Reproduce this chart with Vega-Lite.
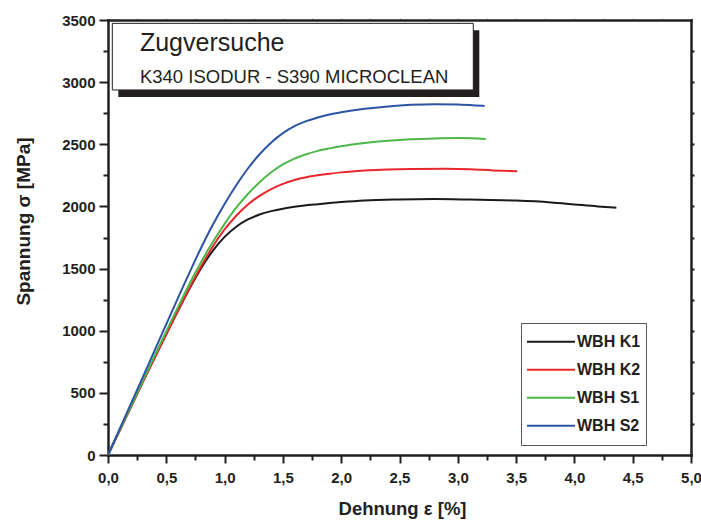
{
  "$schema": "https://vega.github.io/schema/vega-lite/v6.json",
  "width": 583,
  "height": 435,
  "autosize": {"type": "none"},
  "padding": {"left": 108, "top": 20, "right": 10, "bottom": 65},
  "background": "white",
  "config": {
    "view": {"stroke": null},
    "font": "Liberation Sans",
    "axis": {
      "grid": false,
      "domainColor": "#231f20",
      "domainWidth": 2.5,
      "domainCap": "square",
      "tickColor": "#231f20",
      "tickWidth": 2,
      "labelFont": "Liberation Sans",
      "labelFontWeight": "bold",
      "labelFontSize": 15,
      "labelColor": "#231f20",
      "titleFont": "Liberation Sans",
      "titleFontWeight": "bold",
      "titleFontSize": 18.5,
      "titleColor": "#231f20"
    }
  },
  "datasets": {
    "curves": [
      {"probe": "WBH K1", "strain": 0, "stress": 0},
      {"probe": "WBH K1", "strain": 0.3, "stress": 590},
      {"probe": "WBH K1", "strain": 0.6, "stress": 1160},
      {"probe": "WBH K1", "strain": 0.7, "stress": 1340},
      {"probe": "WBH K1", "strain": 0.8, "stress": 1505},
      {"probe": "WBH K1", "strain": 0.9, "stress": 1645},
      {"probe": "WBH K1", "strain": 1.0, "stress": 1755},
      {"probe": "WBH K1", "strain": 1.1, "stress": 1837},
      {"probe": "WBH K1", "strain": 1.2, "stress": 1895},
      {"probe": "WBH K1", "strain": 1.3, "stress": 1935},
      {"probe": "WBH K1", "strain": 1.4, "stress": 1962},
      {"probe": "WBH K1", "strain": 1.5, "stress": 1982},
      {"probe": "WBH K1", "strain": 1.6, "stress": 1997},
      {"probe": "WBH K1", "strain": 1.8, "stress": 2018},
      {"probe": "WBH K1", "strain": 2.0, "stress": 2035},
      {"probe": "WBH K1", "strain": 2.2, "stress": 2048},
      {"probe": "WBH K1", "strain": 2.5, "stress": 2056},
      {"probe": "WBH K1", "strain": 2.8, "stress": 2059},
      {"probe": "WBH K1", "strain": 3.1, "stress": 2055},
      {"probe": "WBH K1", "strain": 3.5, "stress": 2047},
      {"probe": "WBH K1", "strain": 3.8, "stress": 2032},
      {"probe": "WBH K1", "strain": 4.0, "stress": 2016},
      {"probe": "WBH K1", "strain": 4.2, "stress": 2000},
      {"probe": "WBH K1", "strain": 4.36, "stress": 1990},

      {"probe": "WBH K2", "strain": 0, "stress": 0},
      {"probe": "WBH K2", "strain": 0.3, "stress": 590},
      {"probe": "WBH K2", "strain": 0.6, "stress": 1160},
      {"probe": "WBH K2", "strain": 0.7, "stress": 1345},
      {"probe": "WBH K2", "strain": 0.8, "stress": 1520},
      {"probe": "WBH K2", "strain": 0.9, "stress": 1680},
      {"probe": "WBH K2", "strain": 1.0, "stress": 1815},
      {"probe": "WBH K2", "strain": 1.1, "stress": 1925},
      {"probe": "WBH K2", "strain": 1.2, "stress": 2015},
      {"probe": "WBH K2", "strain": 1.3, "stress": 2085},
      {"probe": "WBH K2", "strain": 1.4, "stress": 2140},
      {"probe": "WBH K2", "strain": 1.5, "stress": 2182},
      {"probe": "WBH K2", "strain": 1.6, "stress": 2212},
      {"probe": "WBH K2", "strain": 1.7, "stress": 2234},
      {"probe": "WBH K2", "strain": 1.8, "stress": 2250},
      {"probe": "WBH K2", "strain": 1.9, "stress": 2263},
      {"probe": "WBH K2", "strain": 2.0, "stress": 2274},
      {"probe": "WBH K2", "strain": 2.2, "stress": 2289},
      {"probe": "WBH K2", "strain": 2.4, "stress": 2298},
      {"probe": "WBH K2", "strain": 2.6, "stress": 2302},
      {"probe": "WBH K2", "strain": 2.9, "stress": 2303},
      {"probe": "WBH K2", "strain": 3.1, "stress": 2300},
      {"probe": "WBH K2", "strain": 3.3, "stress": 2290},
      {"probe": "WBH K2", "strain": 3.51, "stress": 2283},

      {"probe": "WBH S1", "strain": 0, "stress": 0},
      {"probe": "WBH S1", "strain": 0.3, "stress": 600},
      {"probe": "WBH S1", "strain": 0.6, "stress": 1190},
      {"probe": "WBH S1", "strain": 0.7, "stress": 1380},
      {"probe": "WBH S1", "strain": 0.8, "stress": 1555},
      {"probe": "WBH S1", "strain": 0.9, "stress": 1715},
      {"probe": "WBH S1", "strain": 1.0, "stress": 1860},
      {"probe": "WBH S1", "strain": 1.1, "stress": 1990},
      {"probe": "WBH S1", "strain": 1.2, "stress": 2100},
      {"probe": "WBH S1", "strain": 1.3, "stress": 2195},
      {"probe": "WBH S1", "strain": 1.4, "stress": 2275},
      {"probe": "WBH S1", "strain": 1.5, "stress": 2338},
      {"probe": "WBH S1", "strain": 1.6, "stress": 2385},
      {"probe": "WBH S1", "strain": 1.7, "stress": 2420},
      {"probe": "WBH S1", "strain": 1.8, "stress": 2447},
      {"probe": "WBH S1", "strain": 1.9, "stress": 2467},
      {"probe": "WBH S1", "strain": 2.0, "stress": 2484},
      {"probe": "WBH S1", "strain": 2.2, "stress": 2510},
      {"probe": "WBH S1", "strain": 2.4, "stress": 2528},
      {"probe": "WBH S1", "strain": 2.6, "stress": 2540},
      {"probe": "WBH S1", "strain": 2.8, "stress": 2547},
      {"probe": "WBH S1", "strain": 3.0, "stress": 2550},
      {"probe": "WBH S1", "strain": 3.12, "stress": 2548},
      {"probe": "WBH S1", "strain": 3.24, "stress": 2542},

      {"probe": "WBH S2", "strain": 0, "stress": 0},
      {"probe": "WBH S2", "strain": 0.35, "stress": 735},
      {"probe": "WBH S2", "strain": 0.7, "stress": 1470},
      {"probe": "WBH S2", "strain": 0.8, "stress": 1670},
      {"probe": "WBH S2", "strain": 0.9, "stress": 1855},
      {"probe": "WBH S2", "strain": 1.0, "stress": 2020},
      {"probe": "WBH S2", "strain": 1.1, "stress": 2170},
      {"probe": "WBH S2", "strain": 1.2, "stress": 2305},
      {"probe": "WBH S2", "strain": 1.3, "stress": 2420},
      {"probe": "WBH S2", "strain": 1.4, "stress": 2515},
      {"probe": "WBH S2", "strain": 1.5, "stress": 2590},
      {"probe": "WBH S2", "strain": 1.6, "stress": 2646},
      {"probe": "WBH S2", "strain": 1.7, "stress": 2686},
      {"probe": "WBH S2", "strain": 1.8, "stress": 2716},
      {"probe": "WBH S2", "strain": 1.9, "stress": 2739},
      {"probe": "WBH S2", "strain": 2.0, "stress": 2757},
      {"probe": "WBH S2", "strain": 2.2, "stress": 2785},
      {"probe": "WBH S2", "strain": 2.4, "stress": 2805},
      {"probe": "WBH S2", "strain": 2.6, "stress": 2818},
      {"probe": "WBH S2", "strain": 2.8, "stress": 2823},
      {"probe": "WBH S2", "strain": 3.0, "stress": 2820},
      {"probe": "WBH S2", "strain": 3.15, "stress": 2813},
      {"probe": "WBH S2", "strain": 3.23, "stress": 2808}
    ],
    "headingBox": [
      {"x0": 0.037, "x1": 3.133, "y0": 2937, "y1": 3473}
    ],
    "heading": [
      {"role": "main", "line": "Zugversuche", "x": 0.274, "y": 3253},
      {"role": "sub", "line": "K340 ISODUR - S390 MICROCLEAN", "x": 0.274, "y": 2996}
    ]
  },
  "resolve": {"axis": {"x": "independent", "y": "independent"}},
  "layer": [
    {
      "data": {"name": "curves"},
      "mark": {"type": "line", "strokeWidth": 2, "interpolate": "monotone"},
      "encoding": {
        "x": {
          "field": "strain", "type": "quantitative",
          "scale": {"domain": [0, 5], "nice": false, "zero": false},
          "axis": {
            "orient": "bottom",
            "values": [0, 0.5, 1, 1.5, 2, 2.5, 3, 3.5, 4, 4.5, 5],
            "labelExpr": "replace(format(datum.value, '.1f'), '.', ',')",
            "tickSize": 8,
            "labelPadding": 7,
            "labelFlush": false,
            "labelOverlap": false,
            "title": "Dehnung ε [%]",
            "titleBaseline": "alphabetic",
            "titleX": 294,
            "titleY": 59
          }
        },
        "y": {
          "field": "stress", "type": "quantitative",
          "scale": {"domain": [0, 3500], "nice": false, "zero": false},
          "axis": {
            "orient": "left",
            "values": [0, 500, 1000, 1500, 2000, 2500, 3000, 3500],
            "format": "d",
            "tickSize": 9,
            "labelPadding": 4,
            "labelFlush": false,
            "labelOverlap": false,
            "title": "Spannung σ [MPa]",
            "titleFontSize": 19,
            "titleBaseline": "alphabetic",
            "titleAngle": -90,
            "titleX": -79,
            "titleY": 201
          }
        },
        "color": {
          "field": "probe", "type": "nominal",
          "scale": {
            "domain": ["WBH K1", "WBH K2", "WBH S1", "WBH S2"],
            "range": ["#1a1a1a", "#e8262b", "#4cb848", "#2c54a4"]
          },
          "legend": {
            "orient": "none",
            "legendX": 413,
            "legendY": 303,
            "title": null,
            "symbolType": "stroke",
            "symbolSize": 2304,
            "symbolStrokeWidth": 2,
            "labelFont": "Liberation Sans",
            "labelFontWeight": "bold",
            "labelFontSize": 16,
            "labelColor": "#231f20",
            "labelOffset": 1,
            "clipHeight": 27.5,
            "rowPadding": 0,
            "padding": 5,
            "strokeColor": "#555555",
            "fillColor": "white",
            "cornerRadius": 0
          }
        }
      }
    },
    {
      "data": {"name": "curves"},
      "mark": {"type": "point", "opacity": 0},
      "encoding": {
        "x": {
          "field": "strain", "type": "quantitative",
          "scale": {"domain": [0, 5], "nice": false, "zero": false},
          "axis": {
            "orient": "bottom",
            "values": [0.25, 0.75, 1.25, 1.75, 2.25, 2.75, 3.25, 3.75, 4.25, 4.75],
            "labels": false, "domain": false, "tickSize": 5, "title": null
          }
        },
        "y": {
          "field": "stress", "type": "quantitative",
          "scale": {"domain": [0, 3500], "nice": false, "zero": false},
          "axis": {
            "orient": "left",
            "values": [250, 750, 1250, 1750, 2250, 2750, 3250],
            "labels": false, "domain": false, "tickSize": 5, "title": null
          }
        }
      }
    },
    {
      "data": {"name": "curves"},
      "mark": {"type": "point", "opacity": 0},
      "encoding": {
        "x": {
          "field": "strain", "type": "quantitative",
          "scale": {"domain": [0, 5], "nice": false, "zero": false},
          "axis": {
            "orient": "top",
            "values": [0.25, 0.5, 0.75, 1, 1.25, 1.5, 1.75, 2, 2.25, 2.5, 2.75, 3, 3.25, 3.5, 3.75, 4, 4.25, 4.5, 4.75],
            "labels": false, "tickSize": 2, "tickWidth": 1, "tickColor": "#aaaaaa", "title": null
          }
        },
        "y": {
          "field": "stress", "type": "quantitative",
          "scale": {"domain": [0, 3500], "nice": false, "zero": false},
          "axis": {
            "orient": "right",
            "values": [250, 500, 750, 1000, 1250, 1500, 1750, 2000, 2250, 2500, 2750, 3000, 3250],
            "labels": false, "tickSize": 3, "title": null
          }
        }
      }
    },
    {
      "data": {"name": "headingBox"},
      "mark": {"type": "rect", "fill": "#231f20", "xOffset": 6, "x2Offset": 6, "yOffset": 7, "y2Offset": 7},
      "encoding": {
        "x": {"field": "x0", "type": "quantitative", "axis": null},
        "x2": {"field": "x1"},
        "y": {"field": "y0", "type": "quantitative", "axis": null},
        "y2": {"field": "y1"}
      }
    },
    {
      "data": {"name": "headingBox"},
      "mark": {"type": "rect", "fill": "white", "stroke": "#231f20", "strokeWidth": 1},
      "encoding": {
        "x": {"field": "x0", "type": "quantitative", "axis": null},
        "x2": {"field": "x1"},
        "y": {"field": "y0", "type": "quantitative", "axis": null},
        "y2": {"field": "y1"}
      }
    },
    {
      "data": {"name": "heading"},
      "transform": [{"filter": "datum.role === 'main'"}],
      "mark": {"type": "text", "align": "left", "baseline": "alphabetic", "font": "Liberation Sans", "fontSize": 25, "color": "#231f20"},
      "encoding": {
        "x": {"field": "x", "type": "quantitative", "axis": null},
        "y": {"field": "y", "type": "quantitative", "axis": null},
        "text": {"field": "line"}
      }
    },
    {
      "data": {"name": "heading"},
      "transform": [{"filter": "datum.role === 'sub'"}],
      "mark": {"type": "text", "align": "left", "baseline": "alphabetic", "font": "Liberation Sans", "fontSize": 18.5, "color": "#231f20"},
      "encoding": {
        "x": {"field": "x", "type": "quantitative", "axis": null},
        "y": {"field": "y", "type": "quantitative", "axis": null},
        "text": {"field": "line"}
      }
    }
  ]
}
